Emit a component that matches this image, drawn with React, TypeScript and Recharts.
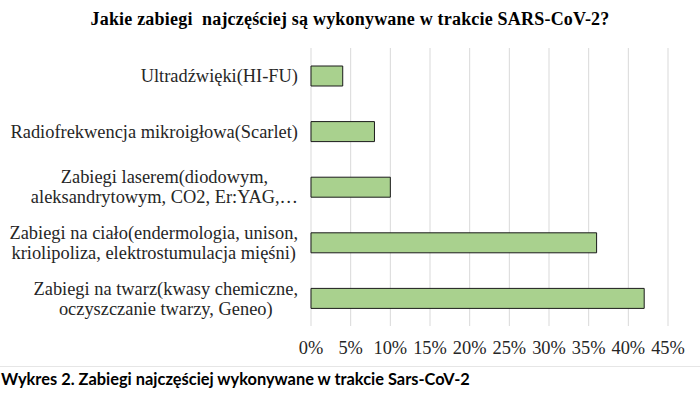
import { BarChart, Bar, XAxis, YAxis, CartesianGrid } from "recharts";

const categories = [
  "Ultradźwięki(HI-FU)",
  "Radiofrekwencja mikroigłowa(Scarlet)",
  "Zabiegi laserem(diodowym,\naleksandrytowym, CO2, Er:YAG,…",
  "Zabiegi na ciało(endermologia, unison,\nkriolipoliza, elektrostumulacja mięśni)",
  "Zabiegi na twarz(kwasy chemiczne,\noczyszczanie twarzy, Geneo)",
];
const shares = [0.04, 0.08, 0.1, 0.36, 0.42];
const ticks = [0, 0.05, 0.1, 0.15, 0.2, 0.25, 0.3, 0.35, 0.4, 0.45];

const title = "Jakie zabiegi  najczęściej są wykonywane w trakcie SARS-CoV-2?";
const caption = "Wykres 2. Zabiegi najczęściej wykonywane w trakcie Sars-CoV-2";

const data = categories.map((name, i) => ({ name, value: shares[i] }));

const serif = '"Liberation Serif", "Times New Roman", serif';
const labelSize = 18.4;
const labelFont = `${labelSize}px ${serif}`;

let ctx: CanvasRenderingContext2D | null = null;
function textWidth(s: string) {
  if (!ctx) ctx = document.createElement("canvas").getContext("2d");
  if (!ctx) return s.length * 8;
  ctx.font = labelFont;
  return ctx.measureText(s).width;
}

// multi-line label, lines centred on each other, block right-aligned to the axis
function CategoryTick(props: any) {
  const { x, y, payload } = props;
  const lines: string[] = String(payload.value).split("\n");
  const w = Math.max(...lines.map(textWidth));
  const cx = x - 5 - w / 2;
  const lh = 20;
  const y0 = y - ((lines.length - 1) * lh) / 2;
  return (
    <text
      textAnchor="middle"
      fontFamily={serif}
      fontSize={labelSize}
      fill="#262626"
    >
      {lines.map((l, i) => (
        <tspan key={i} x={cx} y={y0 + i * lh} dy="0.35em">
          {l}
        </tspan>
      ))}
    </text>
  );
}

export default function App() {
  return (
    <div
      style={{
        position: "absolute",
        left: 0,
        top: 0,
        width: 700,
        height: 394,
        background: "#fff",
        overflow: "hidden",
      }}
    >
      <div
        style={{
          position: "absolute",
          top: 9,
          left: 0,
          width: 700,
          textAlign: "center",
          fontFamily: serif,
          fontWeight: "bold",
          fontSize: 18,
          letterSpacing: 0.2,
          color: "#000",
          whiteSpace: "pre",
        }}
      >
        {title}
      </div>
      <BarChart
        width={700}
        height={365}
        data={data}
        layout="vertical"
        margin={{ top: 48, right: 32, bottom: 9, left: 0 }}
        barCategoryGap="32%"
      >
        <CartesianGrid horizontal={false} stroke="#d9d9d9" />
        <XAxis
          type="number"
          domain={[0, 0.45]}
          ticks={ticks}
          tickFormatter={(v: number) => `${Math.round(v * 100)}%`}
          axisLine={false}
          tickLine={false}
          tickMargin={9}
          height={30}
          tick={{ fontFamily: serif, fontSize: labelSize, fill: "#262626" }}
          interval={0}
        />
        <YAxis
          type="category"
          dataKey="name"
          width={311}
          axisLine={false}
          tickLine={false}
          tick={<CategoryTick />}
          interval={0}
        />
        <Bar
          dataKey="value"
          fill="#a9d18e"
          stroke="#1a1a1a"
          strokeWidth={1}
          barSize={20}
          isAnimationActive={false}
        />
      </BarChart>
      <div
        style={{
          position: "absolute",
          left: 0,
          top: 366,
          width: 700,
          height: 1,
          background: "#e6e6e6",
        }}
      />
      <div
        style={{
          position: "absolute",
          top: 369,
          left: 1,
          fontFamily: "Lato, sans-serif",
          fontWeight: "bold",
          fontSize: 16.4,
          color: "#000",
          whiteSpace: "pre",
        }}
      >
        {caption}
      </div>
    </div>
  );
}
